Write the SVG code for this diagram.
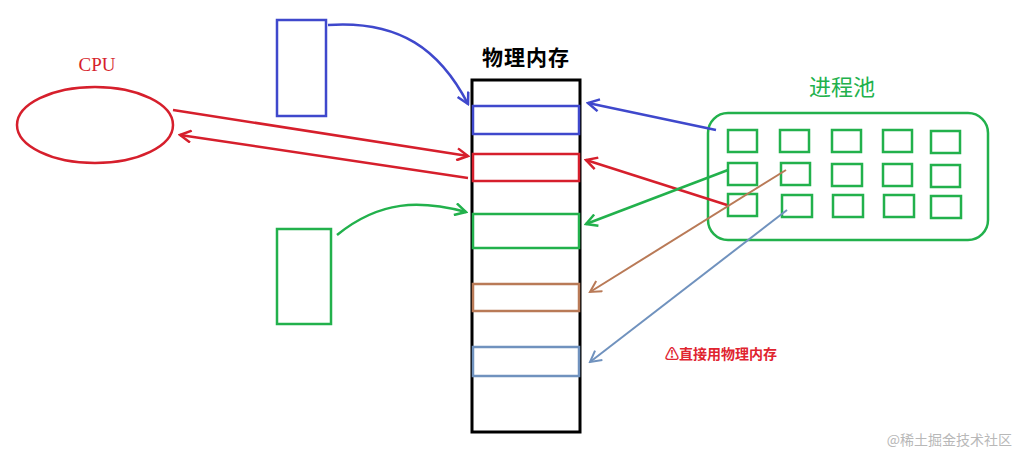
<svg xmlns="http://www.w3.org/2000/svg" width="1021" height="456" viewBox="0 0 1021 456">
<style>
.s{fill:none;stroke-width:2.5}
.b{stroke:#3f48cc}.r{stroke:#d61f2c}.g{stroke:#22b14c}.br{stroke:#b97a57}.lb{stroke:#7092be}
.t{font-family:"Noto Sans CJK SC",sans-serif}
</style>
<defs>
<marker id="ab" markerWidth="14" markerHeight="14" refX="12" refY="7" orient="auto" markerUnits="userSpaceOnUse"><path d="M1,1 L12,7 L1,13" fill="none" stroke="#3f48cc" stroke-width="2.5"/></marker>
<marker id="ar" markerWidth="14" markerHeight="14" refX="12" refY="7" orient="auto" markerUnits="userSpaceOnUse"><path d="M1,1 L12,7 L1,13" fill="none" stroke="#d61f2c" stroke-width="2.5"/></marker>
<marker id="ag" markerWidth="14" markerHeight="14" refX="12" refY="7" orient="auto" markerUnits="userSpaceOnUse"><path d="M1,1 L12,7 L1,13" fill="none" stroke="#22b14c" stroke-width="2.5"/></marker>
<marker id="abr" markerWidth="14" markerHeight="14" refX="12" refY="7" orient="auto" markerUnits="userSpaceOnUse"><path d="M1,1 L12,7 L1,13" fill="none" stroke="#b97a57" stroke-width="2"/></marker>
<marker id="alb" markerWidth="14" markerHeight="14" refX="12" refY="7" orient="auto" markerUnits="userSpaceOnUse"><path d="M1,1 L12,7 L1,13" fill="none" stroke="#7092be" stroke-width="2"/></marker>
</defs>
<rect width="1021" height="456" fill="#fff"/>
<g id="cpu"><ellipse cx="95" cy="125" rx="78" ry="38" class="s r"/><text x="97" y="71" text-anchor="middle" font-family="Liberation Serif,serif" font-size="19" fill="#d61f2c">CPU</text></g>
<g id="blueproc"><rect x="277" y="20" width="49" height="96" class="s b"/></g>
<g id="greenproc"><rect x="277" y="229" width="54" height="95" class="s g"/></g>
<g id="memory">
<text x="526" y="65" text-anchor="middle" class="t" font-size="21" font-weight="bold" fill="#000" letter-spacing="1">物理内存</text>
<rect x="472" y="80" width="108" height="352" fill="none" stroke="#000" stroke-width="3"/>
<rect x="473" y="106" width="106" height="28" class="s b"/>
<rect x="473" y="154" width="106" height="27" class="s r"/>
<rect x="473" y="214" width="106" height="34" class="s g"/>
<rect x="473" y="284" width="106" height="27" class="s br"/>
<rect x="473" y="347" width="106" height="29" class="s lb"/>
</g>
<g id="pool">
<text x="842" y="95" text-anchor="middle" class="t" font-size="22" fill="#22b14c">进程池</text>
<rect x="708" y="113" width="280" height="127" rx="20" class="s g"/>
<g class="s g">
<rect x="728" y="130" width="29" height="22"/><rect x="780" y="130" width="29" height="22"/><rect x="832" y="130" width="29" height="22"/><rect x="883" y="130" width="29" height="22"/><rect x="931" y="131" width="29" height="22"/>
<rect x="728" y="163" width="29" height="22"/><rect x="781" y="163" width="29" height="22"/><rect x="832" y="164" width="30" height="22"/><rect x="883" y="164" width="29" height="22"/><rect x="931" y="165" width="29" height="22"/>
<rect x="728" y="194" width="29" height="22"/><rect x="782" y="195" width="30" height="22"/><rect x="833" y="195" width="30" height="22"/><rect x="884" y="195" width="30" height="22"/><rect x="931" y="196" width="30" height="22"/>
</g>
</g>
<g id="connectors">
<path d="M328,25 C400,20 440,50 468,104" class="s b" marker-end="url(#ab)"/>
<path d="M337,235 C380,200 420,200 466,212" class="s g" marker-end="url(#ag)"/>
<path d="M173,110 L468,156" class="s r" marker-end="url(#ar)"/>
<path d="M468,178 L180,135" class="s r" marker-end="url(#ar)"/>
<path d="M716,130 L588,103" class="s b" marker-end="url(#ab)"/>
<path d="M727,205 L586,160" class="s r" marker-end="url(#ar)"/>
<path d="M728,170 L586,224" class="s g" marker-end="url(#ag)"/>
<path d="M786,170 L590,292" fill="none" stroke-width="2" class="br" marker-end="url(#abr)"/>
<path d="M787,210 L590,362" fill="none" stroke-width="2" class="lb" marker-end="url(#alb)"/>
</g>
<text x="665" y="359" class="t" font-size="14" font-weight="bold" fill="#e0242f">⚠直接用物理内存</text>
<text x="1012" y="445" text-anchor="end" class="t" font-size="14" fill="#b8b8b8">@稀土掘金技术社区</text>
</svg>
